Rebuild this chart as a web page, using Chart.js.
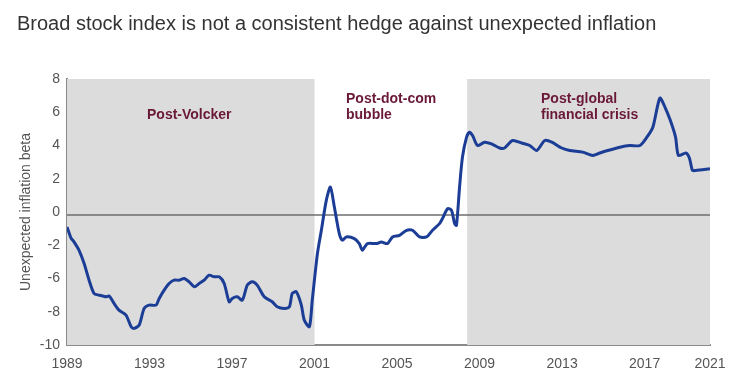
<!DOCTYPE html>
<html>
<head>
<meta charset="utf-8">
<script src="https://cdn.jsdelivr.net/npm/chart.js@4.4.1/dist/chart.umd.min.js"></script>
<style>
  html, body { margin: 0; padding: 0; background: #fff; }
  #wrap { position: relative; width: 755px; height: 389px; }
</style>
</head>
<body>
<div id="wrap"><canvas id="betaChart" width="755" height="389"></canvas></div>
<script>
// years (decimal) and beta values
const years = [
  1989.00, 1989.19, 1989.34, 1989.58, 1989.83, 1990.07, 1990.31, 1990.55, 1990.89, 1991.04,
  1991.28, 1991.52, 1991.86, 1992.11, 1992.25, 1992.50, 1992.74, 1992.98, 1993.32, 1993.47,
  1993.71, 1993.95, 1994.19, 1994.44, 1994.68, 1994.92, 1995.17, 1995.41, 1995.65, 1995.89,
  1996.14, 1996.38, 1996.62, 1996.86, 1997.01, 1997.25, 1997.50, 1997.74, 1997.98, 1998.22,
  1998.56, 1998.95, 1999.19, 1999.53, 1999.78, 1999.92, 2000.12, 2000.36, 2000.50, 2000.75,
  2000.89, 2001.14, 2001.33, 2001.57, 2001.77, 2001.96, 2002.20, 2002.35, 2002.54, 2002.93,
  2003.17, 2003.32, 2003.56, 2004.00, 2004.24, 2004.53, 2004.78, 2005.12, 2005.46, 2005.75,
  2006.09, 2006.43, 2006.72, 2007.06, 2007.20, 2007.45, 2007.64, 2007.79, 2007.88, 2008.03,
  2008.17, 2008.37, 2008.51, 2008.66, 2008.90, 2009.24, 2009.58, 2009.97, 2010.21, 2010.60,
  2011.04, 2011.43, 2011.77, 2012.16, 2012.50, 2012.98, 2013.37, 2014.00, 2014.49, 2014.83,
  2015.21, 2015.80, 2016.28, 2016.77, 2017.11, 2017.40, 2017.74, 2017.99, 2018.25, 2018.50,
  2018.64, 2019.00, 2019.17, 2019.32, 2019.47, 2020.17
];
// values in axis units (the axis is drawn evenly spaced, see yTickLabels)
const beta = [
  -0.9, -1.55, -1.8, -2.3, -3.1, -4.1, -4.9, -5.0, -5.1, -5.05,
  -5.5, -5.9, -6.2, -6.9, -7.0, -6.8, -5.8, -5.6, -5.6, -5.2,
  -4.7, -4.3, -4.1, -4.1, -4.0, -4.2, -4.5, -4.3, -4.1, -3.8,
  -3.9, -3.9, -4.3, -5.4, -5.2, -5.1, -5.3, -4.4, -4.2, -4.4,
  -5.1, -5.4, -5.7, -5.8, -5.7, -4.9, -4.8, -5.6, -6.5, -6.9,
  -5.3, -2.5, -1.1, 0.7, 1.5, 0.3, -1.3, -1.7, -1.5, -1.6,
  -1.9, -2.3, -1.9, -1.9, -1.8, -1.9, -1.5, -1.4, -1.1, -1.1,
  -1.5, -1.5, -1.1, -0.7, -0.4, 0.2, 0.1, -0.7, -0.8, 1.5,
  3.3, 4.5, 4.8, 4.6, 4.0, 4.2, 4.1, 3.85, 3.85, 4.3,
  4.15, 4.0, 3.7, 4.3, 4.2, 3.85, 3.7, 3.6, 3.4, 3.55,
  3.7, 3.9, 4.0, 4.0, 4.5, 5.1, 6.85, 6.3, 5.5, 4.5,
  3.4, 3.55, 3.25, 2.5, 2.5, 2.6
];

const xTickValues = [1989, 1993, 1997, 2001, 2005, 2009, 2013, 2017, 2020.17];
const xTickLabels = ['1989', '1993', '1997', '2001', '2005', '2009', '2013', '2017', '2021'];
const yTickValues = [-8, -6, -4, -2, 0, 2, 4, 6, 8];
const yTickLabels = ['-10', '-8', '-6', '-2', '0', '2', '4', '6', '8'];

// shaded eras [start, end]
const shadedEras = [[1989, 2001], [2008.4, 2020.17]];
const eraNames = [['Post-Volcker'], ['Post-dot-com', 'bubble'], ['Post-global', 'financial crisis']];

const FONT = '"Liberation Sans", Arial, sans-serif';

const backdrop = {
  id: 'backdrop',
  beforeDatasetsDraw(chart) {
    const { ctx, chartArea, scales } = chart;
    ctx.save();
    ctx.fillStyle = '#dcdcdc';
    shadedEras.forEach(([a, b]) => {
      const x0 = scales.x.getPixelForValue(a);
      const x1 = scales.x.getPixelForValue(b);
      ctx.fillRect(x0, chartArea.top, x1 - x0, chartArea.bottom - chartArea.top);
    });
    // zero line
    const y0 = scales.y.getPixelForValue(0) + 3;
    ctx.strokeStyle = '#6e6e6e';
    ctx.lineWidth = 1.5;
    ctx.beginPath();
    ctx.moveTo(chartArea.left, y0);
    ctx.lineTo(chartArea.right, y0);
    ctx.stroke();

    // era labels
    ctx.fillStyle = '#6a1838';
    ctx.font = 'bold 14px ' + FONT;
    ctx.textBaseline = 'alphabetic';
    const spots = [[147, 119], [346, 103], [541, 103]];
    eraNames.forEach((lines, i) => {
      lines.forEach((t, j) => ctx.fillText(t, spots[i][0], spots[i][1] + j * 16));
    });
    ctx.restore();
  },
  afterDraw(chart) {
    const { ctx } = chart;
    ctx.save();
    ctx.fillStyle = '#333';
    ctx.font = '20px ' + FONT;
    ctx.textBaseline = 'alphabetic';
    ctx.fillText('Broad stock index is not a consistent hedge against unexpected inflation', 17, 30);
    ctx.restore();
  }
};

const ctx = document.getElementById('betaChart').getContext('2d');
new Chart(ctx, {
  type: 'line',
  data: {
    datasets: [{
      data: years.map((y, i) => ({ x: y, y: beta[i] })),
      borderColor: '#1b3d96',
      borderWidth: 3,
      pointRadius: 0,
      tension: 0.25,
      fill: false,
    }],
  },
  options: {
    responsive: false,
    animation: false,
    layout: { padding: { top: 79, right: 45, left: 0, bottom: 0 } },
    plugins: { legend: { display: false }, tooltip: { enabled: false }, title: { display: false } },
    scales: {
      x: {
        type: 'linear',
        min: 1989,
        max: 2020.17,
        afterBuildTicks: (s) => { s.ticks = xTickValues.map(v => ({ value: v })); },
        afterFit: (s) => { s.height = 44; },
        grid: { display: false, drawTicks: false },
        border: { display: true, color: '#8a8a8a', width: 2 },
        ticks: {
          autoSkip: false,
          maxRotation: 0,
          padding: 11,
          color: '#555',
          font: { family: FONT, size: 14 },
          callback: (v) => xTickLabels[xTickValues.indexOf(v)],
        },
      },
      y: {
        min: -8,
        max: 8,
        afterBuildTicks: (s) => { s.ticks = yTickValues.map(v => ({ value: v })); },
        afterFit: (s) => { s.width = 67; },
        grid: { display: false, drawTicks: false },
        border: { display: true, color: '#8a8a8a', width: 2 },
        ticks: {
          padding: 7,
          color: '#555',
          font: { family: FONT, size: 14 },
          callback: (v) => yTickLabels[yTickValues.indexOf(v)],
        },
        title: {
          display: true,
          text: 'Unexpected inflation beta',
          color: '#555',
          padding: { top: 18, bottom: 0 },
          font: { family: FONT, size: 14 },
        },
      },
    },
  },
  plugins: [backdrop],
});
</script>
</body>
</html>
